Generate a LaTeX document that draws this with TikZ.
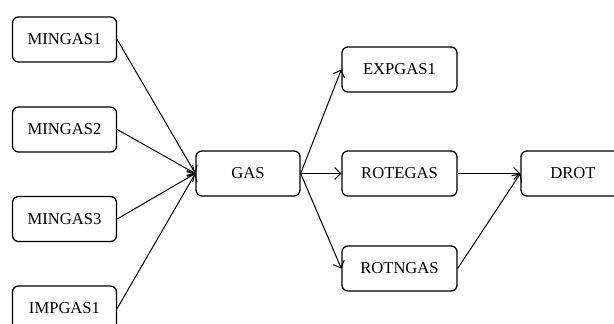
\documentclass[tikz,border=0pt]{standalone}
\usepackage{fontspec}
\setmainfont{Liberation Serif}
\usetikzlibrary{arrows.meta}
\begin{document}
\begin{tikzpicture}[x=1pt,y=-1pt,
  box/.style={draw, line width=1.3pt, rounded corners=6pt, minimum width=104pt, minimum height=45pt, inner sep=0pt, font=\fontsize{16.6}{19}\selectfont},
  wbox/.style={box, minimum width=115pt},
  conn/.style={line width=1pt, -{Straight Barb[length=6pt,width=12pt]}}]
\useasboundingbox (0,0) rectangle (614,324);
\node[box] (m1) at (64.5,39.5) {MINGAS1};
\node[box] (m2) at (64.5,129.5) {MINGAS2};
\node[box] (m3) at (64.5,219) {MINGAS3};
\node[box] (i1) at (64.5,308.5) {IMPGAS1};
\node[box] (gas) at (248,173.5) {GAS};
\node[wbox] (e1) at (399.5,69.5) {EXPGAS1};
\node[wbox] (re) at (399.5,173.5) {ROTEGAS};
\node[wbox] (rn) at (399.5,268.5) {ROTNGAS};
\node[box] (dr) at (573,173.5) {DROT};
\draw[conn] (m1.east) -- (gas.west);
\draw[conn] (m2.east) -- (gas.west);
\draw[conn] (m3.east) -- (gas.west);
\draw[conn] (i1.east) -- (gas.west);
\draw[conn] (gas.east) -- (e1.west);
\draw[conn] (gas.east) -- (re.west);
\draw[conn] (gas.east) -- (rn.west);
\draw[conn] (re.east) -- (dr.west);
\draw[conn] (rn.east) -- (dr.west);
\end{tikzpicture}
\end{document}
